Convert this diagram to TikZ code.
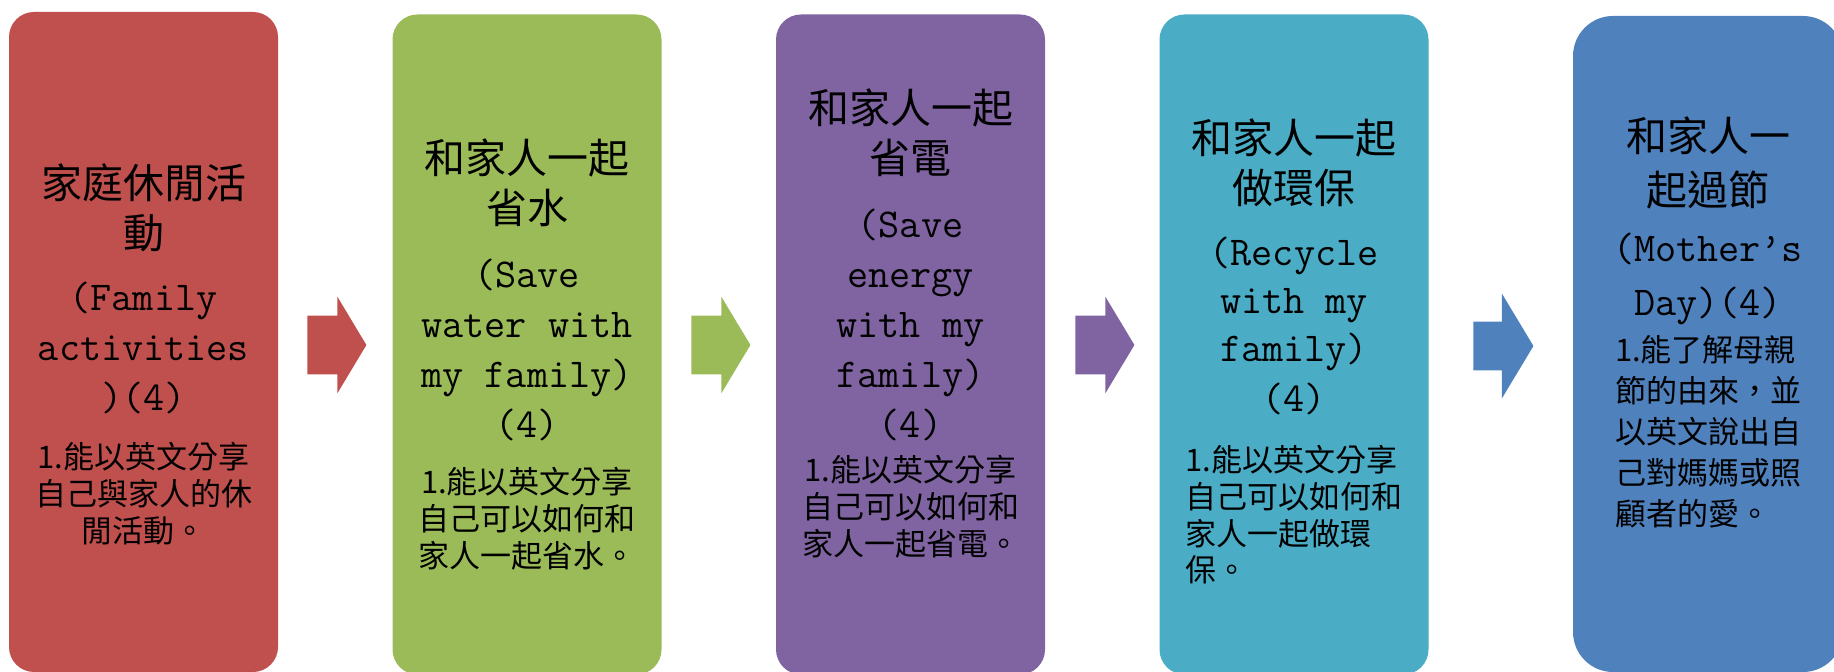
\documentclass[tikz,border=0pt]{standalone}
\usepackage{fontspec}
\newfontfamily\cjk{Noto Sans CJK TC}
\usetikzlibrary{shapes.arrows}
\definecolor{accentred}{HTML}{C0504D}
\definecolor{accentgreen}{HTML}{9BBB59}
\definecolor{accentpurple}{HTML}{8064A2}
\definecolor{accentaqua}{HTML}{4BACC6}
\definecolor{accentblue}{HTML}{4F81BD}
\newcommand\bodylines[3][18.5]{{\fontsize{15.5}{#1}\selectfont\begin{tabular}[t]{@{}#2@{}}#3\end{tabular}}}
\begin{document}
\begin{tikzpicture}[x=0.5pt,y=-0.5pt,
    stage/.style={rounded corners=12.5pt,minimum width=134.5pt,minimum height=330pt,inner sep=0pt},
    words/.style={anchor=north,align=center,inner sep=0pt,font=\fontsize{20.5}{25}\selectfont\cjk},
    flow/.style={single arrow,anchor=tail,inner xsep=0pt,inner ysep=14.5pt,single arrow tip angle=118,
      single arrow head extend=9.5pt,minimum height=29.5pt,minimum width=48pt}]
      \useasboundingbox (0,0) rectangle (1834,672);
      \draw
        (143.5,342) node[stage,fill=accentred] (1){}
        (527,344.5) node[stage,fill=accentgreen] (2){}
        (910.5,344.5) node[stage,fill=accentpurple] (3){}
        (1294,344.5) node[stage,fill=accentaqua] (4){}
        (1708,344) node[stage,fill=accentblue,rounded corners=20pt,minimum width=135pt,minimum height=328pt] (5){};
      \draw
        (307,345) node[flow,fill=accentred] (a1){}
        (691,345) node[flow,fill=accentgreen] (a2){}
        (1075,345) node[flow,fill=accentpurple] (a3){}
        (1473,346) node[flow,fill=accentblue,inner ysep=12pt,minimum height=30pt,minimum width=52pt,single arrow head extend=14pt] (a4){};
      \node[words] (t1) at (143.5,163) {家庭休閒活\\動\\[6pt]
        {\ttfamily(Family}\\{\ttfamily activities}\\{\ttfamily)(4)}\\[4pt]
        \bodylines{c}{1.能以英文分享\\自己與家人的休\\閒活動。}};
      \node[words] (t2) at (527,138) {和家人一起\\省水\\[7pt]
        {\ttfamily(Save}\\{\ttfamily water with}\\{\ttfamily my family)}\\{\ttfamily(4)}\\[3pt]
        \bodylines{c}{1.能以英文分享\\自己可以如何和\\家人一起省水。}};
      \node[words] (t3) at (910.5,88) {和家人一起\\省電\\[7pt]
        {\ttfamily(Save}\\{\ttfamily energy}\\{\ttfamily with my}\\{\ttfamily family)}\\{\ttfamily(4)}\\[-3pt]
        \bodylines[18]{c}{1.能以英文分享\\自己可以如何和\\家人一起省電。}};
      \node[words] (t4) at (1294,118) {和家人一起\\做環保\\[6pt]
        {\ttfamily(Recycle}\\[-1pt]{\ttfamily with my}\\[-1pt]{\ttfamily family)}\\{\ttfamily(4)}\\[5pt]
        \bodylines[18]{l}{1.能以英文分享\\自己可以如何和\\家人一起做環\\保。}};
      \node[words] (t5) at (1708,116) {和家人一\\[2pt]起過節\\[3pt]
        {\ttfamily(Mother’s}\\[2pt]{\ttfamily Day)(4)}\\[-2pt]
        \bodylines[20.5]{l}{1.能了解母親\\節的由來，並\\以英文說出自\\己對媽媽或照\\顧者的愛。}};
    \end{tikzpicture}
\end{document}
